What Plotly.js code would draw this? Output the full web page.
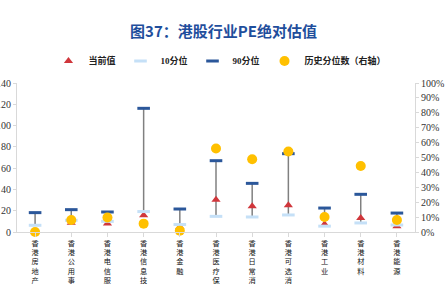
<!DOCTYPE html>
<html>
<head>
<meta charset="utf-8">
<script src="https://cdn.plot.ly/plotly-3.0.1.min.js"></script>
<style>html,body{margin:0;padding:0;background:#fff;}#chart{width:447px;height:284px;}</style>
</head>
<body>
<div id="chart"></div>
<script>
const categories = ['香港房地产','香港公用事业','香港电信服务','香港信息技术','香港金融','香港医疗保健','香港日常消费','香港可选消费','香港工业','香港材料','香港能源'];
const currentPE = [0.3, 8.8, 8.0, 15.7, 4.7, 30.4, 24.1, 25.1, 7.2, 13.1, 5.4];
const pct10 = [6.3, 11.0, 10.0, 19.2, 7.0, 14.7, 14.1, 16.0, 5.5, 8.5, 6.6];
const pct90 = [18.2, 21.0, 18.8, 116.2, 21.6, 67.0, 45.7, 73.6, 22.5, 35.4, 17.8];
const histPct = [0.0, 8.1, 9.7, 5.6, 0.9, 56.0, 48.8, 54.0, 10.1, 44.3, 8.1];
const leftTicks = [0, 20, 40, 60, 80, 100, 120, 140];
const rightTicks = [0, 10, 20, 30, 40, 50, 60, 70, 80, 90, 100];
const rightTickText = rightTicks.map(v => v + '%');

const idx = categories.map((c, i) => i);
const vertText = categories.map(c => c.split('').join('<br>'));

// high-low connector lines between 10th and 90th percentile
const lx = [], ly = [];
idx.forEach(i => { lx.push(i, i, null); ly.push(pct10[i], pct90[i], null); });

const serif = 'Liberation Serif, Times New Roman, serif';
const cjk = 'Liberation Serif, Noto Sans CJK SC, serif';

const traces = [
  {x: lx, y: ly, mode: 'lines', line: {color: '#808080', width: 1.5}, showlegend: false, hoverinfo: 'skip', cliponaxis: false},
  {x: idx, y: currentPE, name: '<b>当前值</b>', mode: 'markers', cliponaxis: false,
   marker: {symbol: 'triangle-up', size: 8, color: '#D0363B'}},
  {x: idx, y: pct10, name: '<b>10分位</b>', mode: 'markers', cliponaxis: false,
   marker: {symbol: 'line-ew', size: 9, color: '#C5E0F7', line: {color: '#C5E0F7', width: 3}}},
  {x: idx, y: pct90, name: '<b>90分位</b>', mode: 'markers', cliponaxis: false,
   marker: {symbol: 'line-ew', size: 9, color: '#2B579A', line: {color: '#2B579A', width: 3}}},
  {x: idx, y: histPct, name: '<b>历史分位数（右轴）</b>', mode: 'markers', yaxis: 'y2', cliponaxis: false,
   marker: {symbol: 'circle', size: 10, color: '#FFC000'}}
];

const layout = {
  width: 447, height: 284,
  margin: {l: 17, r: 32, t: 83, b: 52},
  paper_bgcolor: '#fff', plot_bgcolor: '#fff',
  title: {text: '<b>图37：港股行业PE绝对估值</b>', font: {family: 'Noto Sans CJK SC, sans-serif', size: 15, color: '#1F4E9C'},
          x: 0.5, xanchor: 'center', y: 1 - 32/284, yanchor: 'middle', yref: 'container'},
  showlegend: true,
  legend: {orientation: 'h', x: 0.51, xanchor: 'center', y: 1.148, yanchor: 'middle',
           font: {family: cjk, size: 9, color: '#222'}, itemwidth: 30, traceorder: 'normal'},
  xaxis: {range: [-0.5, 10.5], tickmode: 'array', tickvals: idx, ticktext: vertText,
          showgrid: false, zeroline: false, showline: true, linecolor: '#d9d9d9', linewidth: 1,
          ticks: 'outside', tickson: 'boundaries', ticklen: 4, tickcolor: '#d9d9d9',
          tickangle: 0, tickfont: {family: 'Noto Sans CJK SC, serif', size: 7.2, color: '#111'}, fixedrange: true},
  yaxis: {range: [0, 140], tickmode: 'array', tickvals: leftTicks, showgrid: false, zeroline: false,
          showline: true, linecolor: '#d9d9d9', ticks: 'outside', ticklen: 3, tickcolor: '#d9d9d9',
          tickfont: {family: serif, size: 10, color: '#333'}},
  yaxis2: {range: [0, 100], overlaying: 'y', side: 'right', tickmode: 'array', tickvals: rightTicks,
           ticktext: rightTickText, showgrid: false, zeroline: false, showline: true, linecolor: '#d9d9d9',
           ticks: 'outside', ticklen: 3, tickcolor: '#d9d9d9', tickfont: {family: serif, size: 10, color: '#333'}}
};

Plotly.newPlot('chart', traces, layout, {displayModeBar: false, staticPlot: true});
</script>
</body>
</html>
